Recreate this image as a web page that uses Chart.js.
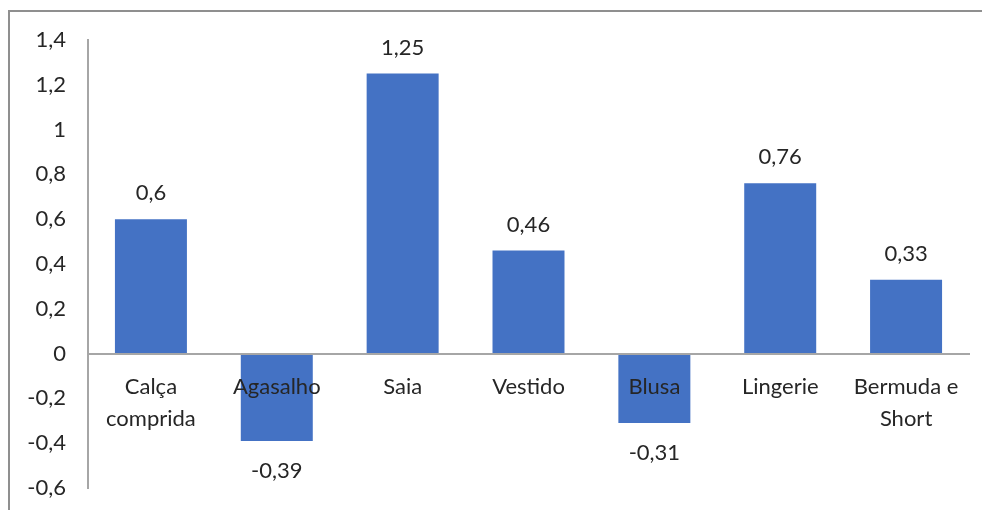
<!DOCTYPE html>
<html>
<head>
<meta charset="utf-8">
<script src="https://cdn.jsdelivr.net/npm/chart.js@4"></script>
<style>
  html, body { margin: 0; padding: 0; background: #fff; }
  #wrap { position: relative; width: 982px; height: 510px; overflow: hidden; }
  #frame { position: absolute; left: 8px; top: 10px; width: 1000px; height: 600px;
           border-left: 2px solid #8f8f8f; border-top: 2px solid #8f8f8f; }
  canvas { position: absolute; left: 0; top: 0; }
</style>
</head>
<body>
<div id="wrap">
  <div id="frame"></div>
  <canvas id="chart" width="982" height="510"></canvas>
</div>
<script>
// categories and values
const categories = [['Calça', 'comprida'], 'Agasalho', 'Saia', 'Vestido', 'Blusa', 'Lingerie', ['Bermuda e', 'Short']];
const values = [0.6, -0.39, 1.25, 0.46, -0.31, 0.76, 0.33];
const yMin = -0.6, yMax = 1.4, yStep = 0.2;

const textColor = '#262626';
const font = { family: 'Lato, "Open Sans", sans-serif', size: 22 };

function fmt(v) {
  return String(Number(v.toFixed(2))).replace('.', ',');
}

// draws the value above (or below) each bar
const valueLabels = {
  id: 'valueLabels',
  afterDatasetsDraw(chart) {
    const ctx = chart.ctx;
    const meta = chart.getDatasetMeta(0);
    ctx.save();
    ctx.font = font.size + 'px ' + font.family;
    ctx.fillStyle = textColor;
    ctx.textAlign = 'center';
    ctx.textBaseline = 'middle';
    meta.data.forEach((bar, i) => {
      const v = values[i];
      const y = v >= 0 ? bar.y - 26 : bar.y + 30;
      ctx.fillText(fmt(v), bar.x, y);
    });
    ctx.restore();
  }
};

new Chart(document.getElementById('chart'), {
  type: 'bar',
  data: {
    labels: categories,
    datasets: [{
      data: values,
      backgroundColor: '#4472C4',
      borderWidth: 0,
      categoryPercentage: 0.572,
      barPercentage: 1
    }]
  },
  options: {
    responsive: false,
    animation: false,
    layout: { padding: { left: 0, right: 13, top: 40, bottom: 22 } },
    plugins: { legend: { display: false }, tooltip: { enabled: false } },
    scales: {
      x: {
        position: { y: 0 },  // category labels hang from the zero line
        grid: { display: false, drawTicks: false },
        border: { display: true, color: '#a6a6a6', width: 2, z: 1 },
        ticks: { color: textColor, font: { ...font, lineHeight: 1.45 }, padding: 17, maxRotation: 0, autoSkip: false, z: 2 }
      },
      y: {
        min: yMin,
        max: yMax,
        grid: { display: false, drawTicks: false },
        border: { display: true, color: '#a6a6a6', width: 2 },
        ticks: {
          stepSize: yStep,
          color: textColor,
          font: font,
          padding: 22,
          callback: v => fmt(v)
        },
        // fixed width, and don't let the tick padding push the plot up from the bottom
        afterFit(scale) {
          scale.width = 88;
          scale.paddingTop = 0;
          scale.paddingBottom = 0;
        }
      }
    }
  },
  plugins: [valueLabels]
});
</script>
</body>
</html>
